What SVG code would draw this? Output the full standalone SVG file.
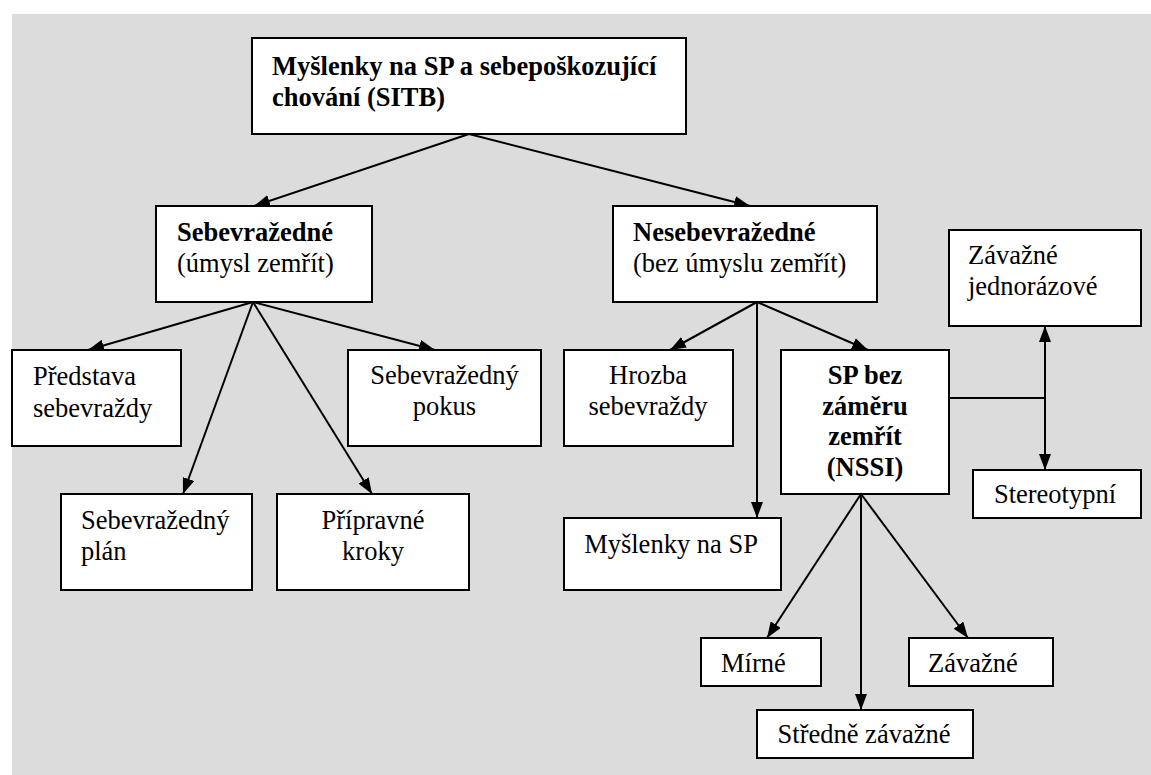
<svg xmlns="http://www.w3.org/2000/svg" width="1151" height="775" viewBox="0 0 1151 775">
<defs>
<marker id="ah" viewBox="0 0 16 12" refX="16" refY="6" markerWidth="16" markerHeight="12" markerUnits="userSpaceOnUse" orient="auto-start-reverse">
<path d="M0,0 L16,6 L0,12 z" fill="#000"/>
</marker>
<style>
.box{fill:#fff;stroke:#000;stroke-width:2}
.t{font-family:"Liberation Serif","Times New Roman",serif;font-size:26.5px;fill:#000}
.b{font-weight:bold}
.c{text-anchor:middle}
.ln{stroke:#000;stroke-width:2;fill:none}
.ar{marker-end:url(#ah)}
</style>
</defs>
<rect x="12" y="14" width="1139" height="761" fill="#dcdcdc"/>
<g id="connectors">
<line class="ln ar" x1="469" y1="134" x2="254" y2="206"/>
<line class="ln ar" x1="469" y1="134" x2="750" y2="206"/>
<line class="ln ar" x1="253" y1="302" x2="88" y2="350"/>
<line class="ln ar" x1="253" y1="302" x2="183" y2="494"/>
<line class="ln ar" x1="253" y1="302" x2="372" y2="494"/>
<line class="ln ar" x1="253" y1="302" x2="435" y2="350"/>
<line class="ln ar" x1="757" y1="302" x2="670" y2="350"/>
<line class="ln ar" x1="757" y1="302" x2="757" y2="518"/>
<line class="ln ar" x1="757" y1="302" x2="868" y2="350"/>
<line class="ln" x1="949" y1="398" x2="1045" y2="398"/>
<line class="ln ar" x1="1045" y1="398" x2="1045" y2="326"/>
<line class="ln ar" x1="1045" y1="398" x2="1045" y2="470"/>
<line class="ln ar" x1="861" y1="494" x2="767" y2="638"/>
<line class="ln ar" x1="861" y1="494" x2="861" y2="710"/>
<line class="ln ar" x1="861" y1="494" x2="968" y2="638"/>
</g>
<g id="sitb">
<rect class="box" x="252" y="38" width="434" height="96"/>
<text class="t b" x="272" y="75">Myšlenky na SP a sebepoškozující</text>
<text class="t b" x="272" y="106">chování (SITB)</text>
</g>
<g id="sebevrazedne">
<rect class="box" x="156" y="206" width="216" height="96"/>
<text class="t b" x="177" y="241">Sebevražedné</text>
<text class="t" x="177" y="272">(úmysl zemřít)</text>
</g>
<g id="nesebevrazedne">
<rect class="box" x="613" y="206" width="264" height="96"/>
<text class="t b" x="633" y="241">Nesebevražedné</text>
<text class="t" x="633" y="272">(bez úmyslu zemřít)</text>
</g>
<g id="predstava">
<rect class="box" x="12" y="350" width="169" height="96"/>
<text class="t" x="33" y="385">Představa</text>
<text class="t" x="33" y="417">sebevraždy</text>
</g>
<g id="pokus">
<rect class="box" x="348" y="350" width="193" height="96"/>
<text class="t c" x="444.5" y="384">Sebevražedný</text>
<text class="t c" x="444.5" y="415">pokus</text>
</g>
<g id="plan">
<rect class="box" x="61" y="494" width="191" height="96"/>
<text class="t" x="81" y="529">Sebevražedný</text>
<text class="t" x="81" y="560">plán</text>
</g>
<g id="pripravne">
<rect class="box" x="277" y="494" width="192" height="96"/>
<text class="t c" x="373" y="529">Přípravné</text>
<text class="t c" x="373" y="560">kroky</text>
</g>
<g id="hrozba">
<rect class="box" x="564" y="350" width="169" height="96"/>
<text class="t c" x="648" y="384">Hrozba</text>
<text class="t c" x="648" y="415">sebevraždy</text>
</g>
<g id="nssi">
<rect class="box" x="781" y="350" width="168" height="144"/>
<text class="t b c" x="865" y="384">SP bez</text>
<text class="t b c" x="865" y="415">záměru</text>
<text class="t b c" x="865" y="445">zemřít</text>
<text class="t b c" x="865" y="476">(NSSI)</text>
</g>
<g id="zavazne-jednorazove">
<rect class="box" x="949" y="230" width="192" height="96"/>
<text class="t" x="968" y="264">Závažné</text>
<text class="t" x="968" y="295">jednorázové</text>
</g>
<g id="stereotypni">
<rect class="box" x="973" y="470" width="168" height="48"/>
<text class="t c" x="1055" y="503">Stereotypní</text>
</g>
<g id="myslenky">
<rect class="box" x="564" y="518" width="217" height="72"/>
<text class="t c" x="671" y="553">Myšlenky na SP</text>
</g>
<g id="mirne">
<rect class="box" x="701" y="638" width="120" height="48"/>
<text class="t" x="721" y="672">Mírné</text>
</g>
<g id="zavazne">
<rect class="box" x="909" y="638" width="144" height="48"/>
<text class="t" x="928" y="672">Závažné</text>
</g>
<g id="stredne">
<rect class="box" x="757" y="710" width="216" height="48"/>
<text class="t c" x="864" y="743">Středně závažné</text>
</g>
</svg>
